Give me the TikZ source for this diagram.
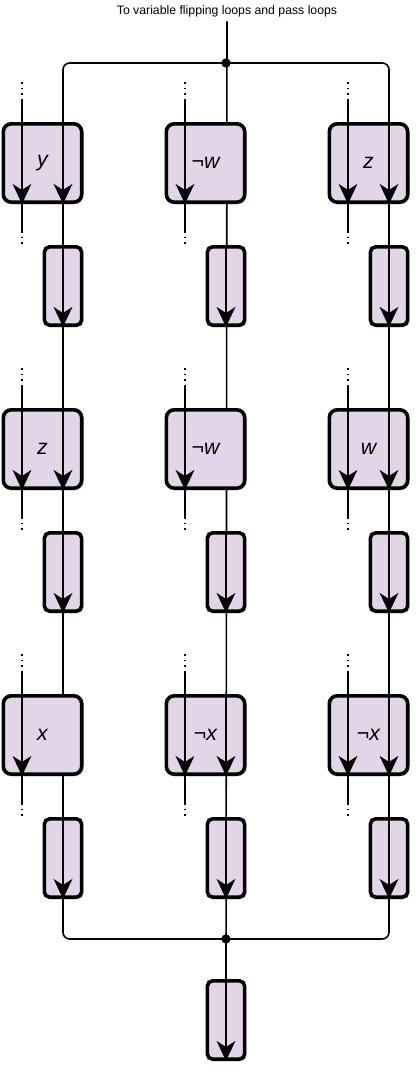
\documentclass[tikz,border=0pt]{standalone}
\usepackage{fontspec}
\setmainfont{Liberation Sans}
\usetikzlibrary{arrows.meta, positioning, shadows}
\definecolor{LoopFill}{HTML}{E1D5E7}
\pgfdeclarelayer{background}
\pgfsetlayers{background,main}

\begin{document}
\begin{tikzpicture}[x=0.75pt, y=-0.75pt]
  \tikzset{
  litbox/.style={draw, line width=2.7pt, rounded corners=6pt, fill=LoopFill,
    minimum width=58.8pt, minimum height=58.8pt, inner sep=0,
    font=\fontsize{16}{19}\selectfont\itshape,
    drop shadow={shadow xshift=1.5pt, shadow yshift=-1.5pt, opacity=0.3}},
  passbox/.style={litbox, minimum width=28pt, rounded corners=4pt},
  wire/.style={line width=1.2pt},
  flow/.style={wire, -{Stealth[length=15pt, width=14pt, inset=4.5pt]}},
  dotwire/.style={wire, dash pattern=on 1.2pt off 3pt},
  titlelab/.style={font=\fontsize{9.2}{11}\selectfont},
}
\useasboundingbox (0,0) rectangle (415,1078);

% ── Title and split point ───────────────────────────────────
\node[titlelab] (title) at (227,11) {To variable flipping loops and pass loops};
\coordinate (topdot) at (226,63);
\coordinate (botdot) at (226,939);

% ── Row 1 ───────────────────────────────────────────────────
\node[litbox] (lit11) at (42.5,163) {y};
\node[litbox] (lit21) at (205.5,163) {¬w};
\node[litbox] (lit31) at (368.5,163) {z};
\node[passbox] (pass11) at (63,286) {};
\node[passbox] (pass21) at (226,286) {};
\node[passbox] (pass31) at (389,286) {};

% ── Row 2 ───────────────────────────────────────────────────
\node[litbox] (lit12) at (42.5,449) {z};
\node[litbox] (lit22) at (205.5,449) {¬w};
\node[litbox] (lit32) at (368.5,449) {w};
\node[passbox] (pass12) at (63,572) {};
\node[passbox] (pass22) at (226,572) {};
\node[passbox] (pass32) at (389,572) {};

% ── Row 3 ───────────────────────────────────────────────────
\node[litbox] (lit13) at (42.5,735) {x};
\node[litbox] (lit23) at (205.5,735) {¬x};
\node[litbox] (lit33) at (368.5,735) {¬x};
\node[passbox] (pass13) at (63,858) {};
\node[passbox] (pass23) at (226,858) {};
\node[passbox] (pass33) at (389,858) {};

% ── Merged output ───────────────────────────────────────────
\node[passbox] (out) at (226,1020) {};

% ── Through lines (behind the boxes) ────────────────────────
\begin{pgfonlayer}{background}
  \draw[wire, rounded corners=5pt] (pass11 |- topdot) rectangle (pass33 |- botdot);
  \draw[wire] (title) -- (out.north);
\end{pgfonlayer}
\fill (topdot) circle (3.5pt);
\fill (botdot) circle (3.5pt);

% ── Arrows through the literal boxes ────────────────────────
\draw[flow] (lit11.north -| pass11) -- (lit11.south -| pass11);
\draw[flow] (lit31.north -| pass31) -- (lit31.south -| pass31);
\draw[flow] (lit12.north -| pass12) -- (lit12.south -| pass12);
\draw[flow] (lit32.north -| pass32) -- (lit32.south -| pass32);
\draw[flow] (lit23.north -| pass23) -- (lit23.south -| pass23);
\draw[flow] (lit33.north -| pass33) -- (lit33.south -| pass33);

% ── Arrows through the pass boxes ───────────────────────────
\draw[flow] (pass11.north) -- (pass11.south);
\draw[flow] (pass21.north) -- (pass21.south);
\draw[flow] (pass31.north) -- (pass31.south);
\draw[flow] (pass12.north) -- (pass12.south);
\draw[flow] (pass22.north) -- (pass22.south);
\draw[flow] (pass32.north) -- (pass32.south);
\draw[flow] (pass13.north) -- (pass13.south);
\draw[flow] (pass23.north) -- (pass23.south);
\draw[flow] (pass33.north) -- (pass33.south);
\draw[flow] (out.north) -- (out.south);

% ── Side feeds (dotted ends) ────────────────────────────────
\draw[flow] ([xshift=-15.4pt]lit11.north) ++(0,-22) -- ([xshift=-15.4pt]lit11.south);
\draw[wire] ([xshift=-15.4pt]lit11.south) -- ++(0,27);
\draw[dotwire] ([xshift=-15.4pt]lit11.north) ++(0,-40) -- ++(0,18) ([xshift=-15.4pt]lit11.south) ++(0,27) -- ++(0,15);

\draw[flow] ([xshift=-15.4pt]lit21.north) ++(0,-22) -- ([xshift=-15.4pt]lit21.south);
\draw[wire] ([xshift=-15.4pt]lit21.south) -- ++(0,27);
\draw[dotwire] ([xshift=-15.4pt]lit21.north) ++(0,-40) -- ++(0,18) ([xshift=-15.4pt]lit21.south) ++(0,27) -- ++(0,15);

\draw[flow] ([xshift=-15.4pt]lit31.north) ++(0,-22) -- ([xshift=-15.4pt]lit31.south);
\draw[wire] ([xshift=-15.4pt]lit31.south) -- ++(0,27);
\draw[dotwire] ([xshift=-15.4pt]lit31.north) ++(0,-40) -- ++(0,18) ([xshift=-15.4pt]lit31.south) ++(0,27) -- ++(0,15);

\draw[flow] ([xshift=-15.4pt]lit12.north) ++(0,-22) -- ([xshift=-15.4pt]lit12.south);
\draw[wire] ([xshift=-15.4pt]lit12.south) -- ++(0,27);
\draw[dotwire] ([xshift=-15.4pt]lit12.north) ++(0,-40) -- ++(0,18) ([xshift=-15.4pt]lit12.south) ++(0,27) -- ++(0,15);

\draw[flow] ([xshift=-15.4pt]lit22.north) ++(0,-22) -- ([xshift=-15.4pt]lit22.south);
\draw[wire] ([xshift=-15.4pt]lit22.south) -- ++(0,27);
\draw[dotwire] ([xshift=-15.4pt]lit22.north) ++(0,-40) -- ++(0,18) ([xshift=-15.4pt]lit22.south) ++(0,27) -- ++(0,15);

\draw[flow] ([xshift=-15.4pt]lit32.north) ++(0,-22) -- ([xshift=-15.4pt]lit32.south);
\draw[wire] ([xshift=-15.4pt]lit32.south) -- ++(0,27);
\draw[dotwire] ([xshift=-15.4pt]lit32.north) ++(0,-40) -- ++(0,18) ([xshift=-15.4pt]lit32.south) ++(0,27) -- ++(0,15);

\draw[flow] ([xshift=-15.4pt]lit13.north) ++(0,-22) -- ([xshift=-15.4pt]lit13.south);
\draw[wire] ([xshift=-15.4pt]lit13.south) -- ++(0,27);
\draw[dotwire] ([xshift=-15.4pt]lit13.north) ++(0,-40) -- ++(0,18) ([xshift=-15.4pt]lit13.south) ++(0,27) -- ++(0,15);

\draw[flow] ([xshift=-15.4pt]lit23.north) ++(0,-22) -- ([xshift=-15.4pt]lit23.south);
\draw[wire] ([xshift=-15.4pt]lit23.south) -- ++(0,27);
\draw[dotwire] ([xshift=-15.4pt]lit23.north) ++(0,-40) -- ++(0,18) ([xshift=-15.4pt]lit23.south) ++(0,27) -- ++(0,15);

\draw[flow] ([xshift=-15.4pt]lit33.north) ++(0,-22) -- ([xshift=-15.4pt]lit33.south);
\draw[wire] ([xshift=-15.4pt]lit33.south) -- ++(0,27);
\draw[dotwire] ([xshift=-15.4pt]lit33.north) ++(0,-40) -- ++(0,18) ([xshift=-15.4pt]lit33.south) ++(0,27) -- ++(0,15);

\end{tikzpicture}
\end{document}
